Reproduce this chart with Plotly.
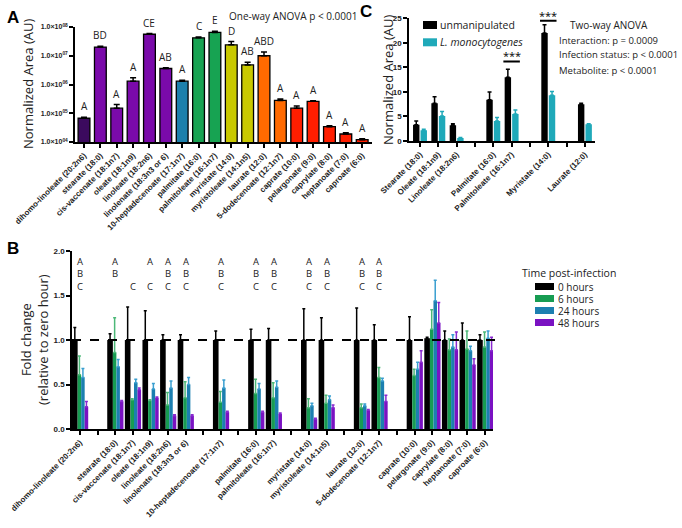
import math
import plotly.graph_objects as go

# ---------------- Panel A data ----------------
a_labels = ["dihomo-linoleate (20:2n6)", "stearate (18:0)", "cis-vaccenate (18:1n7)", "oleate (18:1n9)",
            "linoleate (18:2n6)", "linolenate (18:3n3 or 6)", "10-heptadecenoate (17:1n7)", "palmitate (16:0)",
            "palmitoleate (16:1n7)", "myristate (14:0)", "myristoleate (14:1n5)", "laurate (12:0)",
            "5-dodecenoate (12:1n7)", "caprate (10:0)", "pelargonate (9:0)", "caprylate (8:0)",
            "heptanoate (7:0)", "caproate (6:0)"]
a_values = [6.7e4, 2.0e7, 1.5e5, 1.3e6, 5.6e7, 3.6e6, 1.3e6, 4.2e7, 6.5e7, 2.4e7, 4.8e6, 1.0e7,
            2.8e5, 1.5e5, 2.6e5, 3.4e4, 1.9e4, 1.2e4]
a_errors = [0.6e4, 0.15e7, 0.5e5, 0.4e6, 0.3e7, 0.2e6, 0.1e6, 0.3e7, 0.6e7, 0.7e7, 1.2e6, 0.35e7,
            0.3e5, 0.3e5, 0.1e5, 0.3e4, 0.2e4, 0.1e4]
a_letters = ["A", "BD", "A", "A", "CE", "AB", "A", "C", "E", "D", "AB", "ABD", "A", "A", "A", "A", "A", "A"]
a_colors = ["#3b0a5e", "#7a0aaa", "#7a0aaa", "#7a0aaa", "#7a0aaa", "#7a0aaa", "#1c80ac", "#17a352",
            "#17a352", "#c9c900", "#c9c900", "#ff6a00", "#ff6a00", "#ff1e00", "#ff1e00", "#ff1e00",
            "#ff1e00", "#ff1e00"]
a_tickvals = [1e4, 1e5, 1e6, 1e7, 1e8]
a_ticktext = ["<b>1.0×10<sup>04</sup></b>", "<b>1.0×10<sup>05</sup></b>", "<b>1.0×10<sup>06</sup></b>",
              "<b>1.0×10<sup>07</sup></b>", "<b>1.0×10<sup>08</sup></b>"]

# ---------------- Panel B data ----------------
b_categories = ["dihomo-linoleate (20:2n6)", " ", "stearate (18:0)", "cis-vaccenate (18:1n7)", "oleate (18:1n9)",
                "linoleate (18:2n6)", "linolenate (18:3n3 or 6)", "  ", "10-heptadecenoate (17:1n7)", "   ",
                "palmitate (16:0)", "palmitoleate (16:1n7)", "    ", "myristate (14:0)", "myristoleate (14:1n5)",
                "     ", "laurate (12:0)", "5-dodecenoate (12:1n7)", "      ", "caprate (10:0)",
                "pelargonate (9:0)", "caprylate (8:0)", "heptanoate (7:0)", "caproate (6:0)"]
N = None
b_h0 = [1, N, 1, 1, 1, 1, 1, N, 1, N, 1, 1, N, 1, 1, N, 1, 1, N, 1, 1.02, 1, 1, 1]
b_h0_err = [0.14, N, 0.07, 0.37, 0.33, 0.06, 0.06, N, 0.10, N, 0.12, 0.13, N, 0.35, 0.25, N, 0.36, 0.17, N,
            0.26, 0.01, 0.10, 0.19, 0.06]
b_h6 = [0.61, N, 0.86, 0.33, 0.32, 0.27, 0.35, N, 0.30, N, 0.40, 0.35, N, 0.24, 0.29, N, 0.24, 0.58, N,
        0.60, 1.12, 0.89, 0.90, 0.92]
b_h6_err = [0.21, N, 0.39, 0.01, 0.01, 0.14, 0.18, N, 0.12, N, 0.16, 0.17, N, 0.10, 0.09, N, 0.04, 0.11, N,
            0.07, 0.22, 0.12, 0.20, 0.17]
b_h24 = [0.58, N, 0.70, 0.52, 0.45, 0.46, 0.50, N, 0.46, N, 0.45, 0.47, N, 0.26, 0.33, N, 0.26, 0.54, N,
         0.67, 1.44, 0.92, 0.88, 1.02]
b_h24_err = [0.10, N, 0.08, 0.04, 0.06, 0.08, 0.08, N, 0.09, N, 0.06, 0.07, N, 0.03, 0.04, N, 0.02, 0.03, N,
             0.08, 0.23, 0.14, 0.05, 0.08]
b_h48 = [0.25, N, 0.31, 0.44, 0.35, 0.15, 0.15, N, 0.19, N, 0.19, 0.17, N, 0.11, 0.24, N, 0.21, 0.31, N,
         0.75, 1.19, 0.89, 0.72, 0.88]
b_h48_err = [0.06, N, 0.01, 0.02, 0.01, 0.01, 0.01, N, 0.01, N, 0.01, 0.01, N, 0.01, 0.03, N, 0.01, 0.07, N,
             0.13, 0.23, 0.20, 0.07, 0.15]
b_letters = ["A<br>B<br>C", "", "A<br>B<br> ", " <br> <br>C", "A<br> <br>C", "A<br>B<br>C", "A<br>B<br>C", "",
             "A<br>B<br>C", "", "A<br>B<br>C", "A<br>B<br>C", "", "A<br>B<br>C", "A<br>B<br>C", "",
             "A<br>B<br>C", "A<br>B<br>C", "", "", "", "", "", ""]
b_series = ["0 hours", "6 hours", "24 hours", "48 hours"]
b_colors = ["#000000", "#179c52", "#1c7fb0", "#7a12c2"]
b_err_colors = ["#000000", "#4cb878", "#3a9fd0", "#8a2ad0"]

# ---------------- Panel C data ----------------
c_categories = ["Stearate (18:0)", "Oleate (18:1n9)", "Linoleate (18:2n6)", " ", "Palmitate (16:0)",
                "Palmitoleate (16:1n7)", "  ", "Myristate (14:0)", "   ", "Laurate (12:0)"]
c_unmanip = [3.3, 7.7, 3.2, N, 8.4, 13.0, N, 22.0, N, 7.5]
c_unmanip_err = [0.8, 1.3, 0.3, N, 1.6, 1.6, N, 1.7, N, 0.2]
c_listeria = [2.2, 5.1, 0.6, N, 4.1, 5.5, N, 9.3, N, 3.4]
c_listeria_err = [0.2, 0.9, 0.1, N, 0.7, 0.8, N, 0.8, N, 0.1]
c_series = ["unmanipulated", "<i>L. monocytogenes</i>"]
c_colors = ["#000000", "#1fa9b9"]

W, H = 682, 528
def px_x(p): return p / W
def px_y(p): return 1 - p / H

TXT = "Open Sans"
TICK = dict(family="Liberation Sans", size=8, color="#222222")

fig = go.Figure()

# Panel A bars
fig.add_trace(go.Bar(
    x=list(range(len(a_labels))), y=a_values, marker=dict(color=a_colors, line=dict(color="black", width=1.3)),
    width=0.72, xaxis="x", yaxis="y", showlegend=False,
    error_y=dict(type="data", array=a_errors, arrayminus=[0] * len(a_errors), symmetric=False,
                 color="black", thickness=1.5, width=3)))

for i, (v, e, t) in enumerate(zip(a_values, a_errors, a_letters)):
    fig.add_annotation(x=i, y=math.log10(v + e), xref="x", yref="y", text=t, showarrow=False,
                       yanchor="bottom", yshift=2, font=dict(family=TXT, size=10, color="#222"))

# Panel B bars
offsets = [-0.45, -0.13, 0.07, 0.27]
widths = [0.32, 0.2, 0.2, 0.2]
for name, vals, errs, col, ecol, off, wd in zip(b_series, [b_h0, b_h6, b_h24, b_h48],
                                                [b_h0_err, b_h6_err, b_h24_err, b_h48_err],
                                                b_colors, b_err_colors, offsets, widths):
    fig.add_trace(go.Bar(
        x=b_categories, y=vals, name=name, marker=dict(color=col, line=dict(width=0)),
        offset=off, width=wd, xaxis="x2", yaxis="y2", showlegend=False,
        error_y=dict(type="data", array=errs, arrayminus=[0] * len(errs), symmetric=False,
                     color=ecol, thickness=1.5, width=1.5)))

for cat, t in zip(b_categories, b_letters):
    if t:
        fig.add_annotation(x=cat, y=1.98, xref="x2", yref="y2", text=t, showarrow=False, yanchor="top",
                           font=dict(family=TXT, size=9.5, color="#222"), align="center")

# Panel C bars
for name, vals, errs, col, off in zip(c_series, [c_unmanip, c_listeria], [c_unmanip_err, c_listeria_err],
                                      c_colors, [-0.38, 0.03]):
    fig.add_trace(go.Bar(
        x=c_categories, y=vals, name=name, marker=dict(color=col, line=dict(width=0)),
        offset=off, width=0.35, xaxis="x3", yaxis="y3", showlegend=False,
        error_y=dict(type="data", array=errs, arrayminus=[0] * len(errs), symmetric=False,
                     color=col, thickness=1.5, width=2)))

# significance markers in C
for cat, ytxt in [("Palmitoleate (16:1n7)", 16.2), ("Myristate (14:0)", 24.5)]:
    idx = c_categories.index(cat)
    fig.add_shape(type="line", xref="x3", yref="y3", x0=idx - 0.45, x1=idx + 0.45, y0=ytxt, y1=ytxt,
                  line=dict(color="black", width=2))
    fig.add_annotation(x=cat, y=ytxt, xref="x3", yref="y3", text="***", showarrow=False, yanchor="bottom",
                       yshift=-4, font=dict(family=TXT, size=11, color="black"))

# dashed line at 1.0 in B
fig.add_shape(type="line", xref="paper", yref="y2", x0=px_x(72), x1=px_x(499), y0=1, y1=1,
              line=dict(color="black", width=2, dash="dash"))

# manual legends
def legend_item(x0, x1, yc, h, color, text, tx, size):
    fig.add_shape(type="rect", xref="paper", yref="paper", x0=px_x(x0), x1=px_x(x1),
                  y0=px_y(yc + h / 2), y1=px_y(yc - h / 2), line=dict(width=0), fillcolor=color)
    fig.add_annotation(x=px_x(tx), y=px_y(yc), xref="paper", yref="paper", text=text, showarrow=False,
                       xanchor="left", yanchor="middle", borderpad=0,
                       font=dict(family=TXT, size=size, color="#222"))

fig.add_annotation(x=px_x(569), y=px_y(273), xref="paper", yref="paper", text="Time post-infection",
                   showarrow=False, xanchor="center", yanchor="middle", borderpad=0,
                   font=dict(family=TXT, size=10.5, color="#222"))
for k, (name, col) in enumerate(zip(b_series, b_colors)):
    legend_item(535, 554, 286.5 + 12 * k, 7, col, name, 557, 10)
for k, (name, col) in enumerate(zip(c_series, c_colors)):
    legend_item(423, 437, 25 + 17.3 * k, 8, col, name, 439, 10.5)

axis_common = dict(showline=True, linecolor="black", linewidth=1.5, ticks="outside", ticklen=4,
                   tickcolor="black", tickwidth=1.5, showgrid=False, zeroline=False, tickfont=TICK,
                   automargin=False)

fig.update_layout(
    width=W, height=H, margin=dict(l=0, r=0, t=0, b=0, autoexpand=False),
    paper_bgcolor="white", plot_bgcolor="white", barmode="overlay", showlegend=False,
    font=dict(family=TXT, color="#222"),
    xaxis=dict(**axis_common, domain=[px_x(75), px_x(372)], range=[-0.55, 17.6],
               tickvals=list(range(len(a_labels))), ticktext=["<b>%s</b>" % s for s in a_labels],
               tickangle=-45, anchor="y"),
    yaxis=dict(**{**axis_common, "tickfont": dict(family="Liberation Sans", size=7, color="#222")},
               type="log", domain=[px_y(142), px_y(27)], range=[4, 8], tickvals=a_tickvals,
               ticktext=a_ticktext, anchor="x"),
    xaxis2=dict(**axis_common, domain=[px_x(72), px_x(493)], type="category", range=[-0.45, 23.45],
                tickvals=b_categories, ticktext=["<b>%s</b>" % s for s in b_categories],
                tickangle=-45, anchor="y2"),
    yaxis2=dict(**axis_common, domain=[px_y(429), px_y(251)], range=[0, 2], tickvals=[0, 0.5, 1, 1.5, 2],
                ticktext=["<b>0.0</b>", "<b>0.5</b>", "<b>1.0</b>", "<b>1.5</b>", "<b>2.0</b>"], anchor="x2"),
    xaxis3=dict(**axis_common, domain=[px_x(409), px_x(595)], type="category", range=[-0.6, 9.55],
                tickvals=c_categories, ticktext=["<b>%s</b>" % s for s in c_categories],
                tickangle=-45, anchor="y3"),
    yaxis3=dict(**axis_common, domain=[px_y(141), px_y(18.3)], range=[0, 25], tickvals=[0, 5, 10, 15, 20, 25],
                ticktext=["<b>%d</b>" % v for v in [0, 5, 10, 15, 20, 25]], anchor="x3"),
)

ann = [
    dict(x=px_x(13), y=px_y(17), text="<b>A</b>", size=17),
    dict(x=px_x(13), y=px_y(248), text="<b>B</b>", size=17),
    dict(x=px_x(366), y=px_y(11), text="<b>C</b>", size=17),
]
for a in ann:
    fig.add_annotation(x=a["x"], y=a["y"], xref="paper", yref="paper", text=a["text"], showarrow=False,
                       xanchor="center", yanchor="middle", font=dict(family="Liberation Sans", size=a["size"],
                                                                      color="black"))

texts = [
    (px_x(227), px_y(16), "One-way ANOVA p < 0.0001", "left", 10),
    (px_x(568), px_y(25), "Two-way ANOVA", "left", 10),
    (px_x(557), px_y(40), "Interaction: p = 0.0009", "left", 9.5),
    (px_x(557), px_y(55), "Infection status: p < 0.0001", "left", 9.5),
    (px_x(557), px_y(70), "Metabolite: p < 0.0001", "left", 9.5),
]
for x, y, t, xa, s in texts:
    fig.add_annotation(x=x, y=y, xref="paper", yref="paper", text=t, showarrow=False, xanchor=xa,
                       yanchor="middle", font=dict(family=TXT, size=s, color="#222"))

# axis titles
for x, y, t in [(px_x(28), px_y(84), "Normalized Area (AU)"),
                (px_x(388), px_y(80), "Normalized Area (AU)"),
                (px_x(34), px_y(340), "Fold change<br>(relative to zero hour)")]:
    fig.add_annotation(x=x, y=y, xref="paper", yref="paper", text=t, showarrow=False, textangle=-90,
                       xanchor="center", yanchor="middle", font=dict(family=TXT, size=13, color="#222"))

fig.write_html("out.html", config={"displayModeBar": False},
               post_script="document.body.style.margin='0px';document.body.style.padding='0px';")
